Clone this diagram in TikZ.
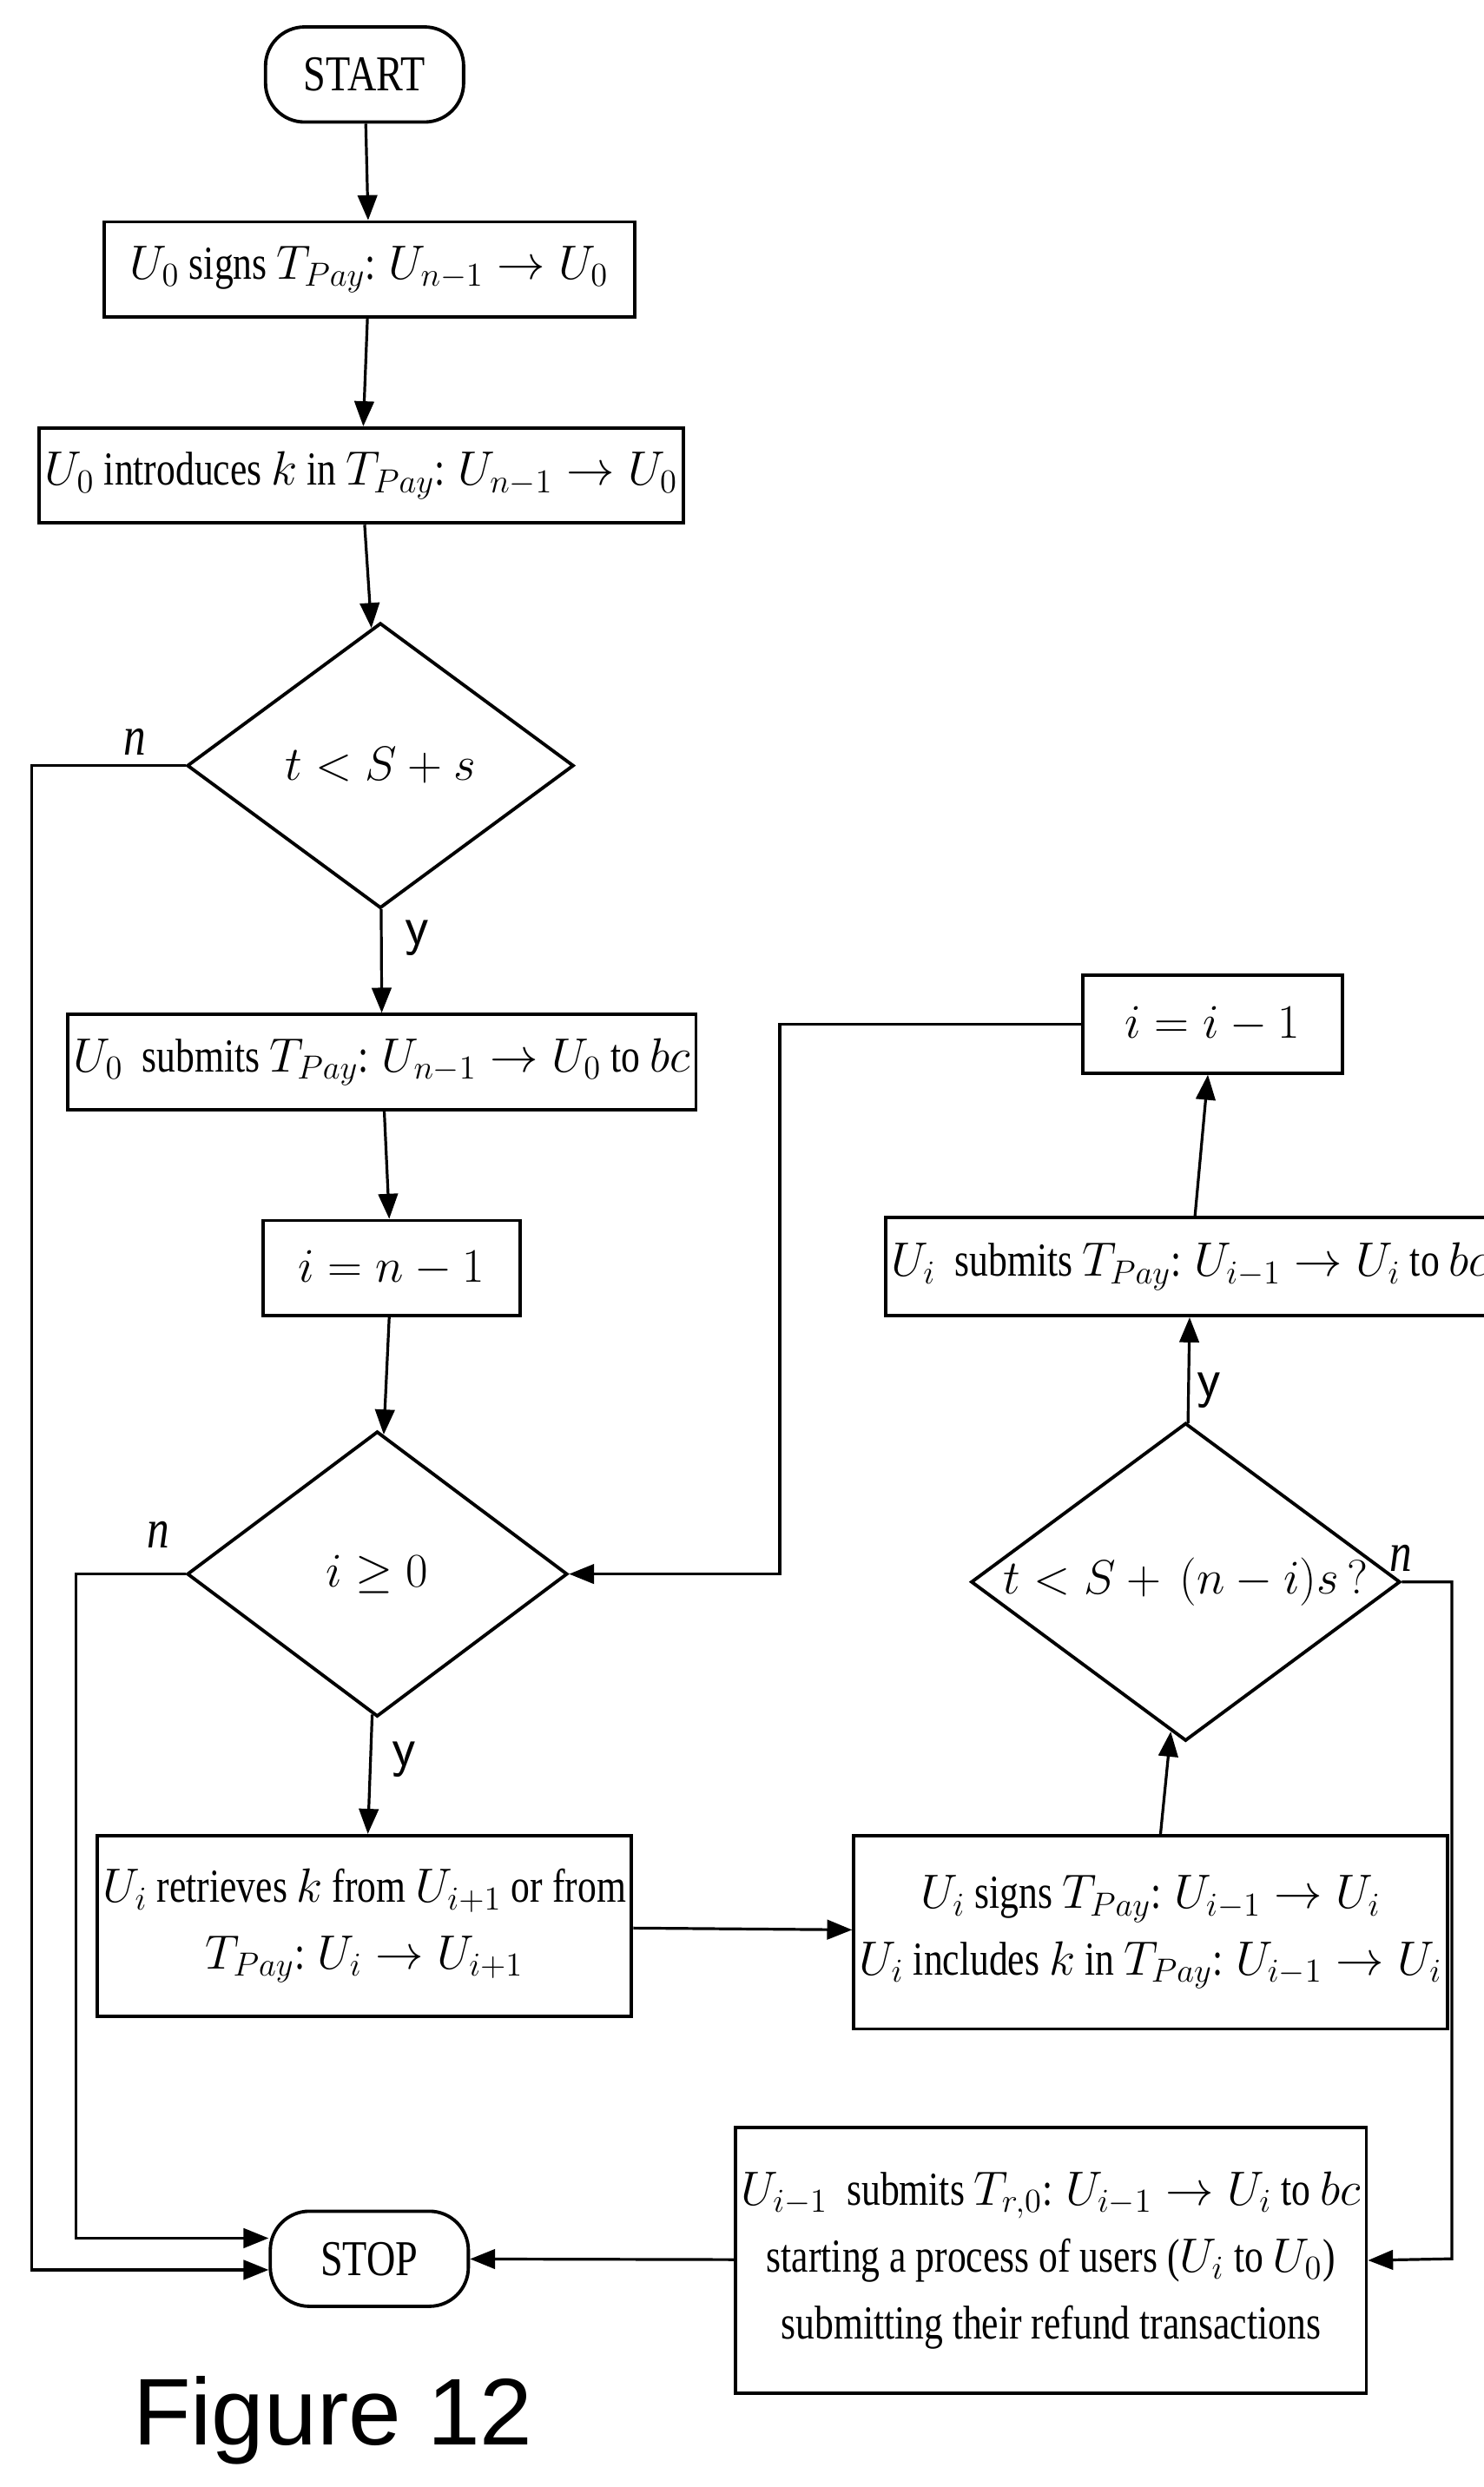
\documentclass[tikz,border=0pt]{standalone}
\usepackage{amsmath}
\usepackage{fontspec}
\setmainfont{Liberation Serif}[FakeStretch=0.8]
\newfontfamily\figfont{Liberation Sans}
\usetikzlibrary{shapes.geometric, arrows.meta, positioning, calc}

\begin{document}
\begin{tikzpicture}[
        x=0.02cm, y=-0.02cm,
        box/.style={rectangle, draw, line width=1.2pt, inner sep=2pt, align=center, font=\fontsize{17}{24}\selectfont},
        term/.style={rectangle, rounded corners=14pt, draw, line width=1.2pt, minimum width=2.5cm, minimum height=1.2cm, font=\fontsize{18}{22}\selectfont},
        cond/.style={diamond, draw, line width=1.2pt, aspect=1.35, inner sep=0pt, font=\fontsize{17}{22}\selectfont},
        arrow/.style={-{Triangle[length=9pt,width=7pt]}, line width=1pt},
        lbl/.style={font=\fontsize{20}{22}\selectfont\sffamily}
    ]
        \useasboundingbox (0,0) rectangle (936,1569);
        % Left column
        \node[term] (start) at (230,47) {START};
        \node[box, minimum width=6.7cm, minimum height=1.2cm] (sign) at (233,170) {$U_0$ signs $T_{Pay}$: $U_{n-1}\rightarrow U_0$};
        \node[box, minimum width=7.38cm, minimum height=1.2cm] (intro) at (228,300) {$U_0$ introduces $k$ in $T_{Pay}$: $U_{n-1}\rightarrow U_0$};
        \node[cond, minimum width=4.88cm, minimum height=3.6cm] (time) at (240,483) {$t<S+s$};
        \node[box, minimum width=6.76cm, minimum height=1.2cm] (submit) at (241,670) {$U_0$\ \ submits $T_{Pay}$: $U_{n-1}\rightarrow U_0$ to $bc$};
        \node[box, minimum width=3.24cm, minimum height=1.2cm] (init) at (247,800) {$i=n-1$};
        \node[cond, minimum width=4.8cm, minimum height=3.6cm] (loop) at (238,993) {$i\geq 0$};
        \node[box, minimum width=6.72cm, minimum height=2.28cm] (fetch) at (230,1215) {$U_i$ retrieves $k$ from $U_{i+1}$ or from\\ $T_{Pay}$: $U_i\rightarrow U_{i+1}$};
        \node[term] (stop) at (233,1425) {STOP};
        % Right column
        \node[box, minimum width=6.74cm, minimum height=2.44cm] (isign) at (726,1219) {$U_i$ signs $T_{Pay}$: $U_{i-1}\rightarrow U_i$\\ $U_i$ includes $k$ in $T_{Pay}$: $U_{i-1}\rightarrow U_i$};
        \node[cond, minimum width=4.9cm, minimum height=3.56cm] (itime) at (748,998) {$t<S+\,(n-i)s\,?$};
        \node[box, minimum width=6.64cm, minimum height=1.24cm] (isubmit) at (751,799) {$U_i$\ \ submits $T_{Pay}$: $U_{i-1}\rightarrow U_i$ to $bc$};
        \node[box, minimum width=3.28cm, minimum height=1.24cm] (dec) at (765,646) {$i=i-1$};
        \node[box, minimum width=7.6cm, minimum height=3.36cm] (refund) at (663,1426) {$U_{i-1}$\ \ submits $T_{r,0}$: $U_{i-1}\rightarrow U_i$ to $bc$\\ starting a process of users ($U_i$ to $U_0$)\\ submitting their refund transactions};
        \node[font=\fontsize{34}{38}\selectfont\figfont] (fig) at (210,1527) {Figure 12};

        % Labels
        \node[lbl, font=\fontsize{20}{22}\selectfont\itshape] (n1) at (85,468) {n};
        \node[lbl] (y1) at (263,592) {y};
        \node[lbl, font=\fontsize{20}{22}\selectfont\itshape] (n2) at (100,968) {n};
        \node[lbl] (y2) at (255,1110) {y};
        \node[lbl] (y3) at (763,877) {y};
        \node[lbl, font=\fontsize{20}{22}\selectfont\itshape] (n3) at (884,983) {n};

        % Arrows
        \draw[arrow] (start) -- (sign);
        \draw[arrow] (sign) -- (intro);
        \draw[arrow] (intro) -- (time);
        \draw[arrow] (time) -- (submit);
        \draw[arrow] (submit) -- (init);
        \draw[arrow] (init) -- (loop);
        \draw[arrow] (loop) -- (fetch);
        \draw[arrow] (fetch) -- (isign);
        \draw[arrow] (isign) -- (itime);
        \draw[arrow] (itime) -- (isubmit);
        \draw[arrow] (isubmit) -- (dec);
        \draw[arrow] (dec.west) -| (492,993) -- (loop.east);
        \draw[arrow] (time.west) -| (20,1432) -- ($(stop.west)+(0,7)$);
        \draw[arrow] (loop.west) -| (48,1412) -- ($(stop.west)+(0,-13)$);
        \draw[arrow] (itime.east) -| (916,1425) -- (refund.east);
        \draw[arrow] (refund) -- (stop);
    \end{tikzpicture}
\end{document}
